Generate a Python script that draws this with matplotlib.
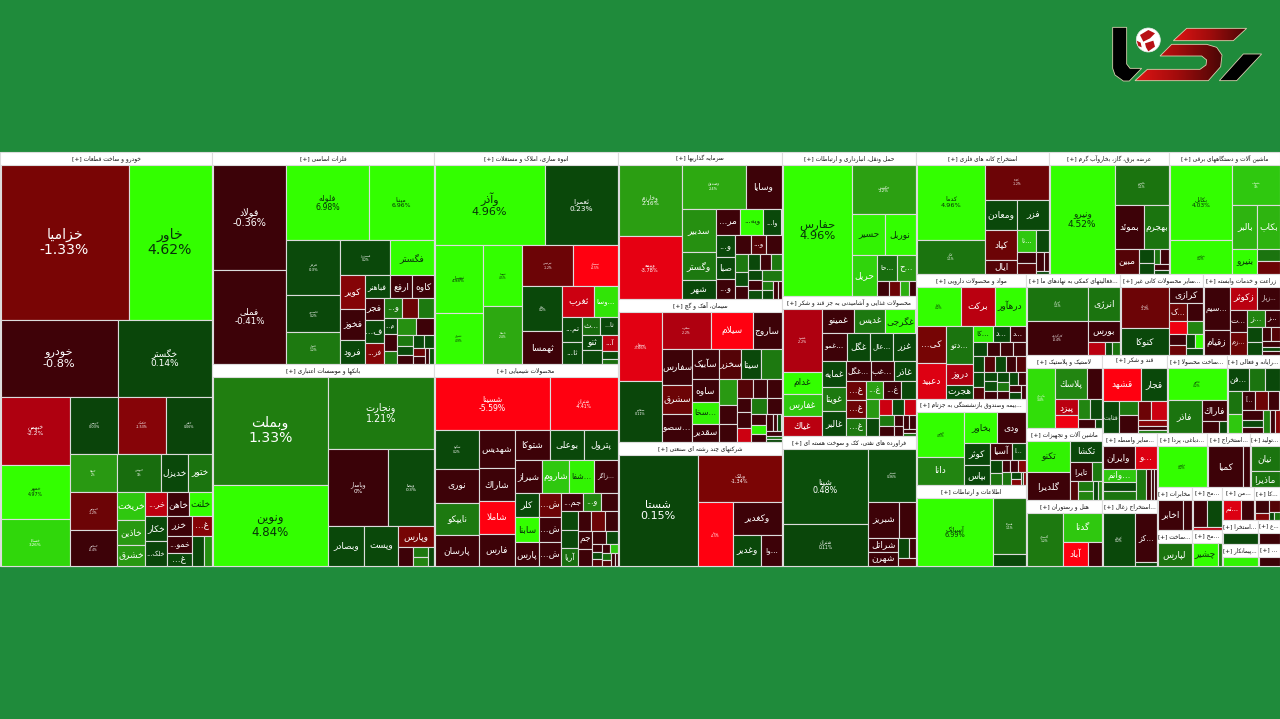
import unicodedata

import matplotlib
matplotlib.use('Agg')
from matplotlib import pyplot as plt
from matplotlib.colors import LinearSegmentedColormap
from matplotlib.patches import Circle, Polygon, Rectangle
import numpy as np

# each sector: labels, values (market size), daily change %, and how many tiles go in each strip
KHODRO_LABELS = ['خزامیا', 'خاور', 'خودرو', 'خگستر', 'خبهمن', 'خمهر', 'خساپا', 'خریس', 'خکمک', 'خفنر',
                 'ختوقا', 'خموتور', 'خمحور', 'خپویش', 'خدیزل', 'ختور', 'خریخت', 'خاذین', 'خشرق', 'خر...',
                 'خاهن', 'خلنت', 'خکار', 'خلک...', 'خزر', 'غ...', 'خمو...', 'غ...', '', '']
KHODRO_VALUES = [19712, 12782, 8892, 7144, 4692, 3740, 3196, 2744, 2688, 2576, 1786, 1786, 1670, 1672, 1026,
                 912, 784, 700, 588, 528, 528, 528, 528, 528, 475, 380, 440, 320, 350, 240]
KHODRO_CHANGE = [-1.33, 4.62, -0.8, 0.14, -2.2, 4.97, 3.26, 0.03, -1.53, 0.06, 2, -1.2, -0.4, 1, 0.2, 1.1, 3,
                 2, 2, -2.6, -0.5, 4.5, 0.2, 0.1, -0.5, -1.5, -0.5, 0.2, 0.2, 1.8]
KHODRO_STRIPS = [2, 2, 3, 3, 3, 3, 3, 3, 2, 2, 2, 2]

FELEZ_LABELS = ['فولاد', 'فملی', 'فلوله', 'میننا', 'هرمز', 'فاسمین', 'فنوال', 'فسبزوار', 'فگستر', 'کویر', 'فخوز',
                'فرود', 'فباهنر', 'ارفع', 'کاوه', 'فجر', 'ف...', 'فز...', 'و...', '', '', 'م...', '', '', '', '',
                '', '', '', '', '', '', '', '', '']
FELEZ_VALUES = [7488, 6696, 6068, 4736, 2862, 1908, 1696, 1650, 1452, 800, 720, 552, 550, 500, 460, 418, 418, 399,
                360, 320, 300, 200, 200, 165, 320, 290, 165, 150, 140, 130, 120, 90, 90, 70, 70]
FELEZ_CHANGE = [-0.36, -0.41, 6.98, 6.96, 0.3, 0.2, 1.2, 0.2, 4.2, -1.5, -0.5, 0.2, 0.2, -0.5, -0.5, -0.5, 0.2, -1.5,
                1.2, -1.2, 1.2, 0.2, -0.5, 1.2, 1.8, -0.5, 1.2, 0.2, -0.5, 0.2, 0.2, -1.2, -0.5, -0.5, 0.5]
FELEZ_STRIPS = [2, 2, 3, 2, 3, 3, 3, 3, 3, 2, 3, 2, 2, 2]

BANK_LABELS = ['وبملت', 'ونوین', 'ونجارت', 'وپاسار', 'وبصا', 'وبصادر', 'وپست', 'وپارس', '', '', '', '']
BANK_VALUES = [12198, 9120, 7455, 4500, 3375, 1400, 1320, 740, 266, 150, 130, 100]
BANK_CHANGE = [1.33, 4.84, 1.21, 0, 0.3, 0.2, 0.2, -1.3, -0.5, 1.2, 1.5, 0.2]
BANK_STRIPS = [2, 1, 2, 1, 1, 1, 1, 2, 1]

ANBOH_LABELS = ['وآذر', 'ثعمرا', 'ثبهساز', 'ثشرق', 'ثنوسا', 'ثاصفا', 'ثپردیس', 'ثمسکن', 'ثباغ', 'ثهمسا', 'ثغرب',
                '...وسا', 'تم...', 'ثا...', '...ث', 'ثا...', 'ثنو', '', 'آ...', '', '']
ANBOH_VALUES = [8502, 5616, 3149, 2350, 2280, 2204, 1950, 1716, 1710, 1254, 960, 690, 494, 418, 306, 300, 290, 270,
                240, 110, 80]
ANBOH_CHANGE = [4.96, 0.23, 4.98, 4.9, 4.5, 2.4, -1.2, -4.5, 0.2, -0.4, -3, 3.5, 0.2, 0.2, 1, 0.2, 0.2, 0.2, -2.5,
                0.2, 1]
ANBOH_STRIPS = [2, 2, 2, 2, 2, 2, 2, 2, 2, 1, 2]

SHIMI_LABELS = ['شسینا', 'شتران', 'شگویا', 'نوری', 'نایپکو', 'پارسان', 'شهدیس', 'شاراك', 'شاملا', 'فارس', 'شتوکا',
                'بوعلی', 'پترول', 'شیراز', 'شاروم', '...شفا', '...زاگر', 'کلر', 'سابنا', 'پارس', 'ش...', 'ش...',
                'ش...', 'جم...', 'و...', '', '', '', 'آریا', '', '', '', 'جم', '', '', '', '', '', '', '', '', '',
                '', '', '']
SHIMI_VALUES = [5814, 3417, 1634, 1419, 1376, 1290, 1258, 1088, 1088, 1054, 980, 952, 924, 837, 837, 775, 713, 576,
                576, 552, 504, 504, 483, 396, 306, 300, 290, 288, 280, 245, 240, 230, 240, 230, 165, 145, 75, 70, 60,
                72, 65, 60, 55, 50, 30]
SHIMI_CHANGE = [-5.59, -4.41, 0.2, -0.4, 1.2, -0.4, -0.4, -0.4, -4.5, -0.4, -0.4, 0.2, 0.2, -0.4, 3, 3.8, -0.4, 0.2,
                4.5, -0.4, -1.2, -0.4, -0.4, -0.4, 1.5, -0.4, 0.2, 0.2, 1, -0.4, -1.2, -0.4, -0.4, -0.4, -0.4, 0.2,
                -0.4, 0.2, -1, -0.4, 3, 1, -1, -0.4, -0.4]
SHIMI_STRIPS = [2, 4, 4, 3, 4, 3, 3, 3, 3, 3, 2, 2, 3, 2, 2, 2]

SARMAYE_LABELS = ['وخارزم', 'وبیمه', 'وصندوق', 'وسایا', 'سدبیر', 'وگستر', 'شهر', 'مر...', 'ویه...', 'وا...', 'و...',
                  'صبا', 'و...', '', 'و...', '', '', '', '', '', '', '', '', '', '', '', '', '', '', '']
SARMAYE_VALUES = [4331, 3843, 2752, 1548, 1428, 918, 646, 600, 580, 450, 396, 378, 360, 300, 290, 280, 240, 190, 170,
                  180, 170, 165, 130, 125, 120, 195, 100, 90, 90, 60]
SARMAYE_CHANGE = [2.16, -3.78, 2.4, -0.4, 1.8, 1.2, 0.2, -0.4, 4, 0.2, 0.2, 0.2, -0.4, -0.4, -1, -0.4, 1.2, 0.5, -0.4,
                  0.2, -0.4, 1.2, 0.2, -0.4, 0.5, 1.2, 1.2, 0.2, -0.4, -0.4]
SARMAYE_STRIPS = [2, 2, 3, 3, 3, 3, 3, 3, 3, 1, 2, 2]

SIMAN_LABELS = ['سبهان', 'سفانو', 'سغرب', 'سیلام', 'ساروج', 'سفارس', 'سشرق', '...سصو', 'سآبیک', 'سخزر', 'سیتا', '',
                'ساوه', '...سخا', 'سقدیر', '', '', '', '', '', '', '', '', '', '', '', '', '', '', '', '', '', '', '', '']
SIMAN_VALUES = [2788, 2460, 1700, 1470, 1015, 986, 812, 780, 756, 616, 560, 560, 546, 546, 450, 425, 310, 300, 272, 255,
                240, 195, 205, 195, 240, 210, 156, 120, 115, 100, 70, 70, 65, 50, 40]
SIMAN_CHANGE = [-3.66, 0.11, -2.2, -4.5, -0.4, -0.4, -1.2, -0.4, -0.4, -1, 0.2, 1.2, -0.4, 3.8, -0.4, 2, -0.4, -0.4,
                -1, -0.4, -0.4, -0.4, -0.4, -3, 1.2, -0.4, -0.4, 3.8, -0.4, -0.4, -0.4, 0.2, -0.4, 1, 0.2]
SIMAN_STRIPS = [2, 3, 3, 4, 3, 3, 3, 3, 2, 3, 3, 3]

CHAND_LABELS = ['شستا', 'وبانک', 'وصنا', 'وکغدیر', 'وغدیر', '...وا']
CHAND_VALUES = [8611, 3864, 2142, 1536, 868, 620]
CHAND_CHANGE = [0.15, -1.34, -4.5, -0.4, 0.2, -0.4]
CHAND_STRIPS = [1, 1, 1, 1, 1, 1]

HAML_LABELS = ['حفارس', 'حکشتی', 'حسیر', 'نوربل', 'حریل', '...حا', '...ح', '', '', '', '']
HAML_VALUES = [8908, 3008, 1320, 1240, 984, 480, 456, 170, 165, 130, 100]
HAML_CHANGE = [4.96, 2.2, 3.8, 4, 3.2, 1, 2, -0.4, -1.2, 2.5, -0.4]
HAML_STRIPS = [1, 1, 2, 1, 2, 1, 1, 1, 1]

GHAZA_LABELS = ['غشهد', 'غدام', 'غفارس', 'غیاك', 'غمینو', 'غدیس', 'غگرجی', '...غمو', 'غگل', '...عال', 'غزر', 'غمایه',
                'غویتا', 'غالبر', '...غگل', '...غب', 'غاذر', 'غ...', 'غ...', 'غ...', 'غ...', 'غ...', '', '', '', '',
                '', '', '', '', '', '', '', '', '', '']
GHAZA_VALUES = [2356, 836, 798, 760, 736, 713, 690, 648, 621, 621, 590, 575, 552, 552, 475, 437, 418, 342, 342, 332,
                288, 280, 240, 230, 220, 200, 190, 170, 160, 150, 90, 80, 85, 80, 50, 40]
GHAZA_CHANGE = [-2.2, 4.5, 3, -2.5, -0.4, 1.2, 4, -0.4, 0.2, 0.2, 0.2, 0.2, 1.2, 0.2, -0.4, -0.4, 0.2, -1.2, -1.2, 1.2,
                2.2, -0.4, 0.2, 2, 0.2, -3, 0.2, -3, 1.2, -0.4, -0.4, -0.4, -0.4, -0.4, -0.4, 1]
GHAZA_STRIPS = [4, 3, 4, 3, 3, 3, 3, 2, 3, 2, 2, 2, 2]

NAFT_LABELS = ['شپنا', 'شتران', 'شبندر', 'شبریز', '', 'شراتل', 'شهرن', '', '', '']
NAFT_VALUES = [6132, 3444, 2400, 1050, 560, 400, 390, 220, 120, 130]
NAFT_CHANGE = [0.48, 0.11, 0.36, -0.4, -0.4, -0.4, -0.4, 0.2, -0.4, -1]
NAFT_STRIPS = [2, 1, 2, 2, 2, 1]

KANE_LABELS = ['کدما', 'کگل', 'کچاد', 'ومعادن', 'فزر', 'کپاد', 'ایال', '...تا', '', '', '', '', '', '']
KANE_VALUES = [4884, 2178, 2079, 928, 900, 870, 420, 380, 260, 210, 190, 140, 90, 30]
KANE_CHANGE = [4.96, 1.1, -1.2, 0.2, 0.2, -1.2, -1, 3, 0.2, -0.4, -1, -0.4, -0.4, 0.2]
KANE_STRIPS = [2, 1, 2, 2, 2, 2, 2, 1]

BARGH_LABELS = ['ونیرو', 'بجهرم', 'بموئد', 'بهجرم', 'مبین', '', '', '', '', '', '']
BARGH_VALUES = [6912, 2090, 1230, 1025, 567, 200, 170, 90, 120, 75, 60]
BARGH_CHANGE = [4.52, 1.1, -0.4, 1.1, -1, 0.2, 0.2, 1.1, -0.4, -0.4, 0.2]
BARGH_STRIPS = [1, 1, 2, 1, 2, 2, 2]

BARGHI_LABELS = ['بکابل', 'بترانس', 'بشهاب', 'بالبر', 'بکاب', 'بنیرو', '', '']
BARGHI_VALUES = [4588, 2046, 1833, 1050, 924, 598, 264, 286]
BARGHI_CHANGE = [4.03, 4.2, 3, 2.6, 2.6, 4.2, 1.1, -1.2]
BARGHI_STRIPS = [2, 1, 2, 1, 1, 1]

DARO_LABELS = ['داوه', 'برکت', 'درهآور', 'کی...', 'دعبید', '...دتو', 'دروز', 'هجرت', '...کا', '...د', '...د', '',
               '', '', '', '', '', '', '', '', '', '', '', '', '', '', '', '', '', '', '', '', '']
DARO_VALUES = [1548, 1188, 1080, 988, 936, 912, 480, 336, 280, 240, 220, 175, 170, 165, 160, 160, 155, 125, 150, 145,
               140, 135, 110, 110, 95, 100, 90, 85, 110, 90, 80, 70, 60]
DARO_CHANGE = [4.2, -2.5, 4, -1.3, -3.5, 1.1, -2.2, 0.2, 3.8, 0.2, -0.4, 0.2, -0.4, -0.4, -0.4, 0.2, 0.2, -1, -1, 0.2,
               -0.4, -1, 0.2, 0.5, -0.4, 0.2, 1.2, -0.4, 0.2, -0.4, -0.4, 0.2, -0.4]
DARO_STRIPS = [3, 2, 3, 3, 4, 3, 4, 3, 3, 2, 2, 1]

BIME_LABELS = ['البرز', 'دانا', 'بخاور', 'ودی', 'کوثر', 'بپاس', 'آسیا', '...ا', '', '', '', '', '', '', '', '', '', '']
BIME_VALUES = [1935, 1215, 924, 784, 506, 437, 330, 210, 150, 140, 90, 90, 80, 100, 60, 50, 30, 25]
BIME_CHANGE = [4.5, 1.5, 4, -0.4, 0.2, 0.2, -0.6, 0.2, 0.2, 1.1, -0.6, -0.6, -1.5, 1.1, 0.2, -1.5, 0.2, -1.5]
BIME_STRIPS = [2, 2, 2, 2, 2, 3, 1, 2, 2]

ETELA_LABELS = ['آسیاتک', 'همراه', '']
ETELA_VALUES = [4884, 1728, 352]
ETELA_CHANGE = [6.99, 1.1, 0.2]
ETELA_STRIPS = [1, 1, 1]

KOMAKI_LABELS = ['اوراق', 'کارگزاری', 'انرژی', 'بورس', '', '', '']
KOMAKI_VALUES = [2108, 2046, 1056, 640, 208, 90, 90]
KOMAKI_CHANGE = [1.1, -0.4, 1.1, -0.4, -2.5, 0.2, 1.1]
KOMAKI_STRIPS = [2, 1, 1, 1, 1, 1]

KANI_LABELS = ['کرمان', 'کنوکا', 'کرازی', '...ک', '', '', '', '', '', '', '', '']
KANI_VALUES = [1840, 1196, 510, 288, 256, 216, 192, 170, 150, 110, 100, 100]
KANI_CHANGE = [-1.2, 0.2, -0.4, -1.2, -0.4, -4, 1.5, -0.4, -1.2, 0.2, 4, 0.2]
KANI_STRIPS = [2, 1, 2, 2, 2, 2, 1]

ZERAAT_LABELS = ['...سیم', 'زقیام', 'زکوثر', '...زپار', '...ت', '...زم', '...ز', '...ز', '', '', '', '', '', '', '']
ZERAAT_VALUES = [1075, 600, 594, 484, 374, 374, 290, 250, 200, 170, 120, 110, 100, 70, 60]
ZERAAT_CHANGE = [-0.4, -0.4, -2.5, -0.4, -0.4, -1.2, 1.5, -0.4, 0.2, 0.2, -0.4, -1, -0.4, 0.2, -0.4]
ZERAAT_STRIPS = [2, 2, 2, 2, 2, 2, 3]

LASTIK_LABELS = ['پکرمان', 'پلاسك', '', 'پیزد', '', '', '', '', '']
LASTIK_VALUES = [1539, 896, 420, 310, 264, 216, 200, 140, 50]
LASTIK_CHANGE = [3.4, 1.5, -0.4, -2.5, -4, 1.5, 0.2, -0.4, 0.2]
LASTIK_STRIPS = [1, 2, 2, 2, 1, 1]

TAJHIZ_LABELS = ['تکنو', 'گلدیرا', 'تکشا', 'تایرا', '', '', '', '', '', '']
TAJHIZ_VALUES = [1247, 1075, 608, 374, 170, 136, 130, 125, 70, 65]
TAJHIZ_CHANGE = [3.8, -0.4, 0.2, -0.4, 1.2, -1, 1.2, 1.5, 0.2, 1.5]
TAJHIZ_STRIPS = [2, 1, 2, 1, 2, 2]

HOTEL_LABELS = ['گلستان', 'گدنا', 'آباد', '']
HOTEL_VALUES = [1908, 1131, 576, 312]
HOTEL_CHANGE = [1.2, 3, -4.5, -0.4]
HOTEL_STRIPS = [1, 1, 1, 1]

GHAND_LABELS = ['قشهد', 'قجار', 'قثابت', '', '', '', '', '', '', '']
GHAND_VALUES = [1152, 768, 480, 220, 290, 230, 250, 150, 100, 90]
GHAND_CHANGE = [-5, 0.2, 0.2, 1.2, -0.4, -1.2, -3, -1.5, -0.4, 1.2]
GHAND_STRIPS = [2, 1, 2, 2, 3]

FELEZI_LABELS = ['فالوم', 'فاذر', 'فاراك', '', '']
FELEZI_VALUES = [1790, 1056, 500, 187, 88]
FELEZI_CHANGE = [4.2, 1.1, -0.4, -0.4, 0.2]
FELEZI_STRIPS = [1, 1, 1, 1, 1]

RAYANE_LABELS = ['...فن', '', '', '', '', '...آ', '', '', '', '', '', '', '', '']
RAYANE_VALUES = [441, 336, 315, 308, 252, 221, 221, 187, 185, 140, 110, 150, 110, 90]
RAYANE_CHANGE = [0.2, 1.1, 0.2, 1.1, 3, -0.4, -1.2, -0.4, -0.4, 0.2, -0.4, 1.5, -0.4, -1.5]
RAYANE_STRIPS = [3, 2, 3, 3, 3]

VASETE_LABELS = ['وایران', '...و', '...وانم', '', '', '', '', '', '']
VASETE_VALUES = [704, 484, 414, 270, 288, 276, 140, 100, 60]
VASETE_CHANGE = [-0.4, -3.5, 3, 0.2, 1.1, 1.2, -0.4, -0.4, -0.4]
VASETE_STRIPS = [2, 3, 4]

ZOGHAL_LABELS = ['کزغال', '...کز', '']
ZOGHAL_VALUES = [1700, 1034, 88]
ZOGHAL_CHANGE = [0.2, -0.4, 0.2]
ZOGHAL_STRIPS = [1, 1, 1]

SMALL_HEADERS = ['...دباغی، پردا', '...استخراج', '...تولید', 'مخابرات', '...ساخت', '...مح', '...مح', '...من', '...کا',
                 '...استخرا', '...پیمانکار', '...ع', '...']
DABAGHI = (['دپارس'], [1920], [4.2], [1])
ESTEKHRAJ = (['کمیا', ''], [1700, 290], [-0.4, -0.4], [1, 1])
TOLID = (['نیان', 'ماذیرا'], [750, 450], [1.1, 1.1], [1, 1])
MOKHABERAT = (['اخابر', ''], [700, 224], [-0.4, -0.4], [1, 1])
SAKHT = (['لپارس'], [759], [1.1], [1])
MAHSOL_A = (['', '', ''], [370, 350, 80], [-0.4, 0.2, -2.5], [2, 1])
MAHSOL_B = (['چشیر', ''], [575, 90], [4, 1.2], [1, 1])
MAN = (['...تم', ''], [360, 240], [-3.5, -0.4], [1, 1])
KALA = (['', '', '', '', ''], [170, 90, 120, 40, 40], [-0.4, -1.5, -1, 0.2, 1.1], [2, 1, 1, 1])
ESTEKHRA = ([''], [324], [0.2], [1])
PEYMAN = ([''], [288], [3.8], [1])
EIN = ([''], [180], [-0.4], [1])
AKHAR = ([''], [100], [-0.4], [1])

HEADERS = ['خودرو و ساخت قطعات', 'فلزات اساسی', 'بانکها و موسسات اعتباری', 'انبوه سازی، املاک و مستغلات',
           'محصولات شیمیایی', 'سرمایه گذاریها', 'سیمان، آهک و گچ', 'شرکتهای چند رشته ای صنعتی',
           'حمل ونقل، انبارداری و ارتباطات', 'محصولات غذایی و آشامیدنی به جز قند و شکر',
           'فراورده های نفتی، کک و سوخت هسته ای', 'استخراج کانه های فلزی', 'عرضه برق، گاز، بخاروآب گرم',
           'ماشین آلات و دستگاههای برقی', 'مواد و محصولات دارویی', '...بیمه وصندوق بازنشستگی به جزتام',
           'اطلاعات و ارتباطات', '...فعالیتهای کمکی به نهادهای ما', '...سایر محصولات کانی غیر',
           'زراعت و خدمات وابسته', 'لاستیک و پلاستیک', 'ماشین آلات و تجهیزات', 'هتل و رستوران', 'قند و شکر',
           '...ساخت محصولا', '...رایانه و فعالی', '...سایر واسطه', '...استخراج زغال'] + SMALL_HEADERS
SECTOR_SIZES = [87768, 47064, 44844, 39008, 37168, 24108, 23452, 20336, 19296, 18760, 17420, 16226, 14640, 13542,
                13750, 9460, 8910, 7614, 6723, 6237, 5548, 5472, 5016, 5070, 4680, 4134, 3685, 3630, 2700, 2322, 1620,
                1505, 1260, 1290, 1080, 1056, 858, 864, 792, 528, 484]
SECTOR_STRIPS = [1, 2, 2, 3, 3, 3, 3, 3, 3, 3, 2, 3, 2, 2, 2, 2, 1, 1]

SECTOR_TILES = [
    (KHODRO_LABELS, KHODRO_VALUES, KHODRO_CHANGE, KHODRO_STRIPS),
    (FELEZ_LABELS, FELEZ_VALUES, FELEZ_CHANGE, FELEZ_STRIPS),
    (BANK_LABELS, BANK_VALUES, BANK_CHANGE, BANK_STRIPS),
    (ANBOH_LABELS, ANBOH_VALUES, ANBOH_CHANGE, ANBOH_STRIPS),
    (SHIMI_LABELS, SHIMI_VALUES, SHIMI_CHANGE, SHIMI_STRIPS),
    (SARMAYE_LABELS, SARMAYE_VALUES, SARMAYE_CHANGE, SARMAYE_STRIPS),
    (SIMAN_LABELS, SIMAN_VALUES, SIMAN_CHANGE, SIMAN_STRIPS),
    (CHAND_LABELS, CHAND_VALUES, CHAND_CHANGE, CHAND_STRIPS),
    (HAML_LABELS, HAML_VALUES, HAML_CHANGE, HAML_STRIPS),
    (GHAZA_LABELS, GHAZA_VALUES, GHAZA_CHANGE, GHAZA_STRIPS),
    (NAFT_LABELS, NAFT_VALUES, NAFT_CHANGE, NAFT_STRIPS),
    (KANE_LABELS, KANE_VALUES, KANE_CHANGE, KANE_STRIPS),
    (BARGH_LABELS, BARGH_VALUES, BARGH_CHANGE, BARGH_STRIPS),
    (BARGHI_LABELS, BARGHI_VALUES, BARGHI_CHANGE, BARGHI_STRIPS),
    (DARO_LABELS, DARO_VALUES, DARO_CHANGE, DARO_STRIPS),
    (BIME_LABELS, BIME_VALUES, BIME_CHANGE, BIME_STRIPS),
    (ETELA_LABELS, ETELA_VALUES, ETELA_CHANGE, ETELA_STRIPS),
    (KOMAKI_LABELS, KOMAKI_VALUES, KOMAKI_CHANGE, KOMAKI_STRIPS),
    (KANI_LABELS, KANI_VALUES, KANI_CHANGE, KANI_STRIPS),
    (ZERAAT_LABELS, ZERAAT_VALUES, ZERAAT_CHANGE, ZERAAT_STRIPS),
    (LASTIK_LABELS, LASTIK_VALUES, LASTIK_CHANGE, LASTIK_STRIPS),
    (TAJHIZ_LABELS, TAJHIZ_VALUES, TAJHIZ_CHANGE, TAJHIZ_STRIPS),
    (HOTEL_LABELS, HOTEL_VALUES, HOTEL_CHANGE, HOTEL_STRIPS),
    (GHAND_LABELS, GHAND_VALUES, GHAND_CHANGE, GHAND_STRIPS),
    (FELEZI_LABELS, FELEZI_VALUES, FELEZI_CHANGE, FELEZI_STRIPS),
    (RAYANE_LABELS, RAYANE_VALUES, RAYANE_CHANGE, RAYANE_STRIPS),
    (VASETE_LABELS, VASETE_VALUES, VASETE_CHANGE, VASETE_STRIPS),
    (ZOGHAL_LABELS, ZOGHAL_VALUES, ZOGHAL_CHANGE, ZOGHAL_STRIPS),
    DABAGHI, ESTEKHRAJ, TOLID, MOKHABERAT, SAKHT, MAHSOL_A, MAHSOL_B, MAN, KALA, ESTEKHRA, PEYMAN, EIN, AKHAR,
]

BACKGROUND = '#1f8b3b'
BORDER = '#dcdcdc'
MAP_BOX = (0, 152, 1280, 566)
HEADER_PX = 12.5

GREENS = [(0, '#0a430a'), (0.5, '#0b4f0b'), (1.2, '#1e7a10'), (2.2, '#2ca012'), (3, '#2fc80f'), (4, '#33ff00'),
          (7, '#33ff00')]
REDS = [(0, '#3a0208'), (0.8, '#3f0208'), (1.33, '#7a0505'), (2.2, '#b00010'), (3.78, '#e60012'), (4.4, '#ff0010'),
        (6, '#ff0010')]
green_map = LinearSegmentedColormap.from_list('up', [(p / 7, c) for p, c in GREENS])
red_map = LinearSegmentedColormap.from_list('down', [(p / 6, c) for p, c in REDS])


def tile_colour(change):
    if change > 0:
        return green_map(min(change, 7) / 7)
    return red_map(min(-change, 6) / 6)


# matplotlib does not shape arabic, so pick the presentation forms by hand and reverse
FORMS = {}
for cp in list(range(0xFB50, 0xFC00)) + list(range(0xFE70, 0xFEFD)):
    parts = unicodedata.decomposition(chr(cp)).split()
    if len(parts) == 2 and parts[0] in ('<isolated>', '<final>', '<initial>', '<medial>'):
        FORMS.setdefault(chr(int(parts[1], 16)), {})[parts[0]] = chr(cp)


def joins_next(ch):
    return ch in FORMS and '<initial>' in FORMS[ch]


def farsi(text):
    salida = []
    i = 0
    while i < len(text):
        ch = text[i]
        prev_joins = i > 0 and joins_next(text[i - 1])
        if text[i:i + 2] == 'لا':
            salida.append('\uFEFC' if prev_joins else '\uFEFB')
            i += 2
            continue
        if ch not in FORMS:
            salida.append(ch)
            i += 1
            continue
        next_joins = i + 1 < len(text) and text[i + 1] in FORMS
        forms = FORMS[ch]
        if prev_joins and next_joins and '<medial>' in forms:
            salida.append(forms['<medial>'])
        elif prev_joins and '<final>' in forms:
            salida.append(forms['<final>'])
        elif next_joins and '<initial>' in forms:
            salida.append(forms['<initial>'])
        else:
            salida.append(forms.get('<isolated>', ch))
        i += 1
    return ''.join(reversed(salida))


def chop(values, strips, box):
    """Lays values out strip by strip, a strip runs across the shorter side of what is left."""
    x0, y0, x1, y1 = box
    rects = []
    i = 0
    for n in strips:
        strip = values[i:i + n]
        left = sum(values[i:])
        dx, dy = x1 - x0, y1 - y0
        if dx <= dy:
            h = dy * sum(strip) / left
            x = x0
            for v in strip:
                w = dx * v / sum(strip)
                rects.append((x, y0, w, h))
                x += w
            y0 += h
        else:
            w = dx * sum(strip) / left
            y = y0
            for v in strip:
                h = dy * v / sum(strip)
                rects.append((x0, y, w, h))
                y += h
            x0 += w
        i += n
    if i != len(values):
        raise ValueError(f'strips cover {i} of {len(values)} values')
    return rects


def draw_tile(ax, rect, label, change):
    x, y, w, h = rect
    ax.add_patch(Rectangle((x, y), w, h, facecolor=tile_colour(change), edgecolor=BORDER, linewidth=0.8))
    if not label:
        return
    colour = '#07300a' if change >= 3.6 else 'white'
    area = w * h
    if area >= 1680:
        px = max(3, min(14, area * 0.00125))
        txt = f'{farsi(label)}\n{change:g}%'
        ax.text(x + w / 2, y + h / 2, txt, ha='center', va='center', color=colour, fontsize=px * 0.72,
                linespacing=1.1)
    else:
        px = min(9, 0.92 * w / (0.5 * len(label)))
        ax.text(x + w / 2, y + h / 2, farsi(label), ha='center', va='center', color=colour, fontsize=px * 0.72)


def draw_sector(ax, rect, header, tiles):
    x, y, w, h = rect
    ax.add_patch(Rectangle((x, y), w, h, facecolor='white', edgecolor=BORDER, linewidth=0.8))
    titulo = ax.text(x + w / 2, y + HEADER_PX / 2, '[+] ' + farsi(header), ha='center', va='center', color='#111111',
                     fontsize=4.2)
    # narrow sectors: shrink the heading until it fits
    ancho = titulo.get_window_extent(fig.canvas.get_renderer()).width
    if ancho > w - 2:
        titulo.set_fontsize(max(2.5, 4.2 * (w - 2) / ancho))
    labels, values, change, strips = tiles
    if not len(labels) == len(values) == len(change):
        raise ValueError(f'{header}: {len(labels)} labels, {len(values)} values, {len(change)} changes')
    cells = chop(values, strips, (x + 0.5, y + HEADER_PX, x + w - 0.5, y + h))
    for cell, label, pct in zip(cells, labels, change):
        draw_tile(ax, cell, label, pct)


def draw_logo(ax):
    def pts(coords):
        return [(1090 + a / 3, 10 + b / 3) for a, b in coords]

    edge = dict(edgecolor='#d8d0b0', linewidth=0.6)
    gradient = LinearSegmentedColormap.from_list('logo', ['#e01414', '#a00c0c', '#4a0606'])
    ramp = np.linspace(0, 1, 128).reshape(1, -1)
    reds = [[(290, 55), (470, 55), (430, 92), (250, 92)],
            [(245, 103), (350, 103), (380, 112), (396, 135), (392, 170), (355, 212), (135, 212), (172, 178),
             (330, 178), (348, 165), (350, 150), (335, 138), (210, 138)]]
    for shape in reds:
        poly = Polygon(pts(shape), facecolor='none', **edge)
        ax.add_patch(poly)
        xs = [p[0] for p in pts(shape)]
        ys = [p[1] for p in pts(shape)]
        img = ax.imshow(ramp, cmap=gradient, extent=(min(xs), max(xs), max(ys), min(ys)), aspect='auto')
        img.set_clip_path(poly)
    ax.add_patch(Polygon(pts([(68, 52), (110, 52), (110, 162), (120, 175), (155, 175), (118, 213), (100, 213),
                              (75, 195), (68, 175)]), facecolor='black', **edge))
    ax.add_patch(Polygon(pts([(460, 132), (515, 132), (440, 212), (388, 212)]), facecolor='black', **edge))
    ax.add_patch(Circle((1148.3, 40), 12, facecolor='white', edgecolor='#e8e8e8', linewidth=0.5))
    for blob in ([(150, 75), (175, 60), (195, 70), (180, 85), (160, 95)],
                 [(165, 100), (190, 92), (195, 110), (175, 124), (168, 112)],
                 [(140, 92), (152, 98), (155, 112), (145, 108)]):
        ax.add_patch(Polygon(pts(blob), facecolor='#b80f14', edgecolor='none'))


plt.rcParams['font.family'] = ['DejaVu Sans']
fig = plt.figure(figsize=(12.8, 7.19), dpi=100, facecolor=BACKGROUND)
ax = fig.add_axes([0, 0, 1, 1])
ax.set_axis_off()

boxes = chop(SECTOR_SIZES, SECTOR_STRIPS, MAP_BOX)
for box, titulo, tiles in zip(boxes, HEADERS, SECTOR_TILES):
    draw_sector(ax, box, titulo, tiles)
draw_logo(ax)

ax.set_xlim(0, 1280)
ax.set_ylim(719, 0)
fig.savefig('out.png', dpi=100, facecolor=BACKGROUND)
